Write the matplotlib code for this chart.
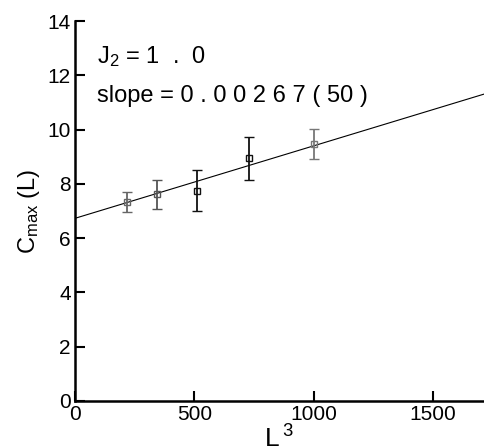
import matplotlib
matplotlib.use("Agg")
import matplotlib.pyplot as plt

plt.rcParams['font.family'] = ['Liberation Sans', 'DejaVu Sans']
plt.rcParams['mathtext.fontset'] = 'custom'
plt.rcParams['mathtext.rm'] = 'Liberation Sans'
plt.rcParams['mathtext.it'] = 'Liberation Sans'
plt.rcParams['mathtext.bf'] = 'Liberation Sans:bold'

# data
L3 = [216, 343, 512, 729, 1000]
cmax = [7.34, 7.61, 7.75, 8.94, 9.47]
cmax_err = [0.36, 0.52, 0.76, 0.79, 0.56]
fit_intercept = 6.73
fit_slope = 0.00267
x_ticks = [0, 500, 1000, 1500]
y_ticks = [0, 2, 4, 6, 8, 10, 12, 14]

bar_colors = ['#666666', '#555555', '#111111', '#111111', '#777777']

fig = plt.figure(figsize=(4.84, 4.47), dpi=100)
ax = fig.add_axes([0.155, 0.103, 0.845, 0.850])

ax.axline((0, fit_intercept), slope=fit_slope, color='black', lw=0.8)

for x, y, e, c in zip(L3, cmax, cmax_err, bar_colors):
    ax.errorbar(x, y, yerr=e, fmt='s', mfc='none', mec=c, ms=4, mew=1,
                ecolor=c, elinewidth=1.3, capsize=3.5, capthick=1.3)

ax.set_xlim(0, 1714)
ax.set_ylim(0, 14)
ax.set_xticks(x_ticks)
ax.set_yticks(y_ticks)

for side in ['top', 'right']:
    ax.spines[side].set_visible(False)
for side in ['left', 'bottom']:
    ax.spines[side].set_linewidth(1.8)

ax.tick_params(direction='in', length=7, width=1.5, labelsize=15, pad=3)

ax.set_ylabel(r'C$_{\mathrm{max}}$ (L)', fontsize=17, labelpad=4)
ax.set_xlabel(r'L$\,^{3}$', fontsize=19, labelpad=1)

ax.text(92, 12.45, r'J$_2$ = 1  .  0', fontsize=17)
ax.text(92, 11.02, 'slope = 0 . 0 0 2 6 7 ( 50 )', fontsize=17)

fig.savefig('out.png', dpi=100)
